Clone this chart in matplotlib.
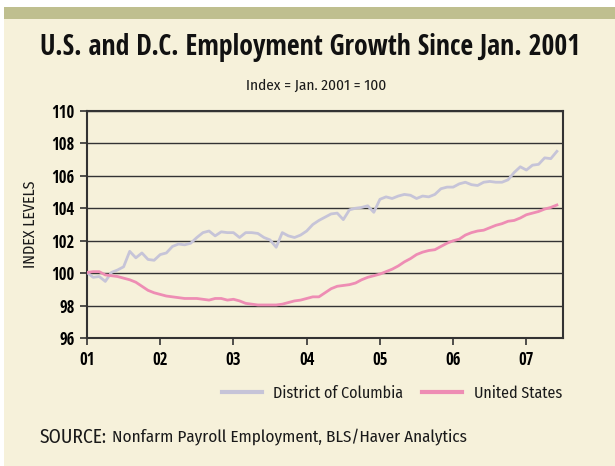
import numpy as np
import matplotlib
matplotlib.use('Agg')
import matplotlib.pyplot as plt
from matplotlib.patches import Rectangle

BOLD = ['Open Sans Condensed', 'PT Sans Narrow', 'DejaVu Sans']
REG = ['Fira Sans Condensed', 'PT Sans Narrow', 'DejaVu Sans']
plt.rcParams['font.family'] = REG

# monthly index values, Jan 2001 .. Jun 2007
dc = [100.05, 99.75, 99.8, 99.5, 100.05, 100.2, 100.4, 101.35, 100.95, 101.25, 100.85, 100.8,
      101.15, 101.25, 101.65, 101.8, 101.75, 101.85, 102.2, 102.5, 102.6, 102.3, 102.55, 102.5,
      102.5, 102.2, 102.5, 102.5, 102.45, 102.2, 102.05, 101.6, 102.5, 102.3, 102.2, 102.35,
      102.6, 103.0, 103.25, 103.45, 103.65, 103.7, 103.3, 103.9, 104.0, 104.05, 104.15, 103.75,
      104.55, 104.7, 104.6, 104.75, 104.85, 104.8, 104.6, 104.75, 104.7, 104.85, 105.2, 105.3,
      105.3, 105.5, 105.6, 105.45, 105.4, 105.6, 105.65, 105.6, 105.6, 105.75, 106.2, 106.55,
      106.35, 106.65, 106.7, 107.1, 107.05, 107.5]
us = [100.05, 100.1, 100.1, 99.9, 99.85, 99.8, 99.7, 99.6, 99.45, 99.2, 98.95, 98.8,
      98.7, 98.6, 98.55, 98.5, 98.45, 98.45, 98.45, 98.4, 98.35, 98.45, 98.45, 98.35,
      98.4, 98.3, 98.15, 98.1, 98.05, 98.05, 98.05, 98.05, 98.1, 98.2, 98.3, 98.35,
      98.45, 98.55, 98.55, 98.8, 99.05, 99.2, 99.25, 99.3, 99.4, 99.6, 99.75, 99.85,
      99.95, 100.1, 100.25, 100.45, 100.7, 100.9, 101.15, 101.3, 101.4, 101.45, 101.65, 101.85,
      102.0, 102.1, 102.35, 102.5, 102.6, 102.65, 102.8, 102.95, 103.05, 103.2, 103.25, 103.4,
      103.6, 103.7, 103.8, 103.95, 104.05, 104.2]
year_labels = ['01', '02', '03', '04', '05', '06', '07']
y_ticks = [96, 98, 100, 102, 104, 106, 108, 110]

bg = '#f6f1da'
ink = '#1a1a1a'
months = np.arange(len(dc))

fig = plt.figure(figsize=(6.15, 4.66), dpi=100)
fig.patch.set_facecolor('white')
fig.patches.append(Rectangle((4 / 615, 0), 1, 1 - 7 / 466, transform=fig.transFigure,
                             facecolor=bg, edgecolor='none', zorder=-2))
fig.patches.append(Rectangle((4 / 615, 1 - 19 / 466), 1, 12 / 466, transform=fig.transFigure,
                             facecolor='#bfbf8f', edgecolor='none', zorder=-1))

ax = fig.add_axes([87 / 615, 1 - 338.3 / 466, 476 / 615, 227.6 / 466])
ax.set_facecolor(bg)
ax.plot(months, dc, color='#c6c4d8', lw=2.0, label='District of Columbia', zorder=3)
ax.plot(months, us, color='#ee8db4', lw=2.0, label='United States', zorder=3)

ax.set_xlim(0, 78)
ax.set_ylim(96, 110)
ax.set_xticks(np.arange(0, 73, 12))
ax.set_xticklabels(year_labels)
ax.set_yticks(y_ticks)
ax.set_yticklabels([str(v) for v in y_ticks])
for lab in ax.get_xticklabels() + ax.get_yticklabels():
    lab.set_family(BOLD)
    lab.set_fontweight('bold')
    lab.set_fontsize(12)
ax.tick_params(axis='both', direction='out', length=5, width=1.2, color='#333333', pad=4)
ax.grid(axis='y', color='#333333', lw=1.0)
ax.set_axisbelow(True)
for s in ax.spines.values():
    s.set_color('#333333')
    s.set_linewidth(1.5)
ax.set_ylabel('INDEX LEVELS', fontsize=11.5, labelpad=9, color=ink)

fig.text(310 / 615, 1 - 48 / 466, 'U.S. and D.C. Employment Growth Since Jan. 2001',
         ha='center', va='center', fontsize=20, fontweight='bold', family=BOLD,
         color='#111111')
fig.text(316 / 615, 1 - 86 / 466, 'Index = Jan. 2001 = 100', ha='center', va='center',
         fontsize=11, color=ink)

leg = ax.legend(loc='center', bbox_to_anchor=(392 / 615, 1 - 393 / 466),
                bbox_transform=fig.transFigure, ncol=2, frameon=False,
                prop={'size': 11.5}, handlelength=2.5, handletextpad=0.7,
                columnspacing=1.2)
for line in leg.get_lines():
    line.set_linewidth(3)
for t in leg.get_texts():
    t.set_color(ink)

fig.text(40 / 615, 1 - 437 / 466, 'SOURCE:', ha='left', va='center', fontsize=14,
         color=ink)
fig.text(112 / 615, 1 - 437 / 466, 'Nonfarm Payroll Employment, BLS/Haver Analytics',
         ha='left', va='center', fontsize=12.3, color=ink)

fig.savefig('out.png', dpi=100)
